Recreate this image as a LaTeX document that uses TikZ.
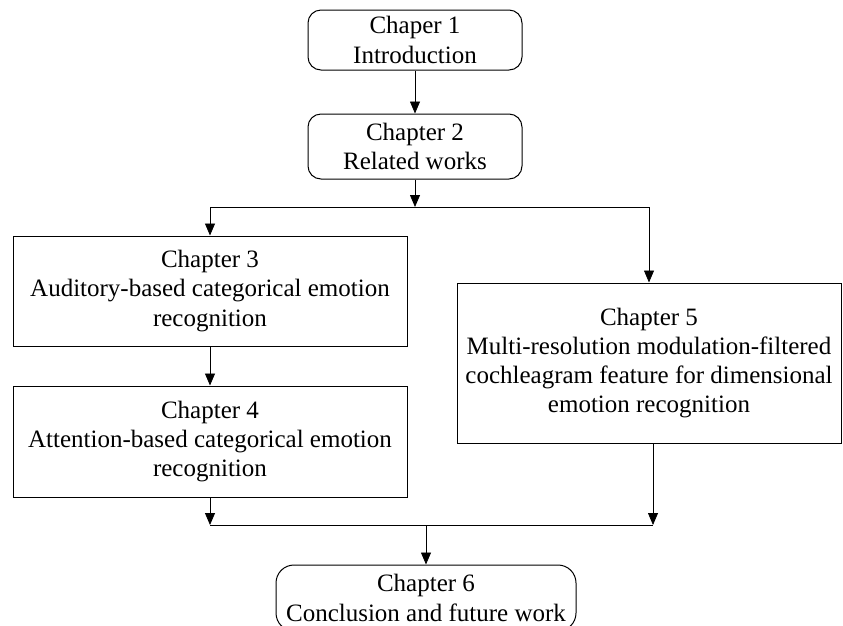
\documentclass[tikz,border=0pt]{standalone}
\usepackage{fontspec}
\setmainfont{Liberation Serif}
\usetikzlibrary{shapes,arrows.meta,positioning}

\begin{document}
\begin{tikzpicture}
      [x=1pt, y=1pt,
      font=\fontsize{25}{29.3}\selectfont,
      node style1/.style={draw, rectangle, rounded corners=13pt, align=center, line width=1pt, inner sep=0pt},
      node style2/.style={draw, rectangle, align=center, line width=1pt, inner sep=0pt},
      edge style/.style={draw, line width=0.8pt},
      arrow style/.style={edge style, -{Triangle[length=12pt, width=10pt]}},
      ]
      \useasboundingbox (0,0) rectangle (843,-625);

      \node[node style1, minimum width=214pt, minimum height=60pt] (ch1) at (415,-40) {Chaper 1\\Introduction};
      \node[node style1, minimum width=214pt, minimum height=65pt] (ch2) at (415,-146.5) {Chapter 2\\Related works};
      \node[node style2, minimum width=394pt, minimum height=110pt] (ch3) at (210,-291) {Chapter 3\\Auditory-based categorical emotion\\recognition};
      \node[node style2, minimum width=394pt, minimum height=111pt] (ch4) at (210,-441.5) {Chapter 4\\Attention-based categorical emotion\\recognition};
      \node[node style2, minimum width=384pt, minimum height=160pt] (ch5) at (649,-363) {Chapter 5\\Multi-resolution modulation-filtered\\cochleagram feature for dimensional\\emotion recognition};
      \node[node style1, rounded corners=18pt, minimum width=300pt, minimum height=66pt] (ch6) at (426,-598) {Chapter 6\\Conclusion and future work};

      % split after chapter 2
      \coordinate (split l) at (210,-207);
      \coordinate (split r) at (649,-207);
      \draw[arrow style] (ch1) -- (ch2);
      \draw[arrow style] (ch2) -- (ch2 |- split l);
      \draw[edge style] (split l) -- (split r);
      \draw[arrow style] (split l) -- (ch3);
      \draw[arrow style] (split r) -- (ch5);
      \draw[arrow style] (ch3) -- (ch4);

      % merge before chapter 6
      \coordinate (merge l) at (210,-525);
      \coordinate (merge r) at (653,-525);
      \coordinate (merge m) at (426,-525);
      \draw[arrow style] (ch4) -- (merge l);
      \draw[arrow style] (ch5.south -| merge r) -- (merge r);
      \draw[edge style] (merge l) -- (merge r);
      \draw[arrow style] (merge m) -- (ch6);
\end{tikzpicture}
\end{document}
